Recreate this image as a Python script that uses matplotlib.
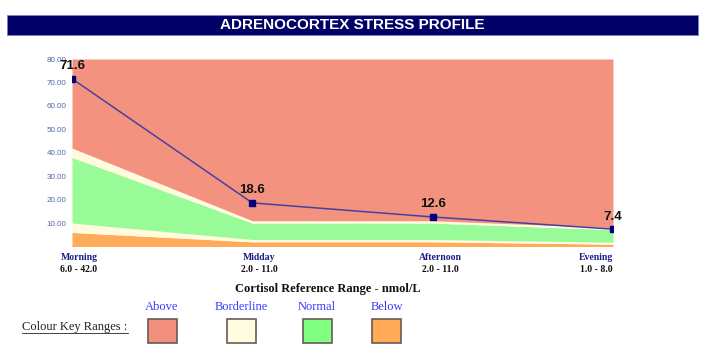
import numpy as np
import matplotlib.pyplot as plt
from matplotlib.patches import Rectangle

# data
periods = ['Morning', 'Midday', 'Afternoon', 'Evening']
ranges = ['6.0 - 42.0', '2.0 - 11.0', '2.0 - 11.0', '1.0 - 8.0']
ref_low = [6.0, 2.0, 2.0, 1.0]
norm_low = [10.0, 3.0, 3.0, 1.8]
norm_high = [38.0, 10.0, 10.0, 7.2]
ref_high = [42.0, 11.0, 11.0, 8.0]
cortisol = [71.6, 18.6, 12.6, 7.4]
y_max = 80

key_names = ['Above', 'Borderline', 'Normal', 'Below']
key_colors = ['#f28f7e', '#fffde0', '#80ff80', '#ffab57']

c_above = '#f3937f'
c_border = '#fffbdc'
c_normal = '#98fb98'
c_below = '#ffab5c'

fig = plt.figure(figsize=(7.03, 3.47), dpi=100)
W, H = 703, 347

# title bar
fig.patches.append(Rectangle((7 / W, 1 - 35 / H), 691 / W, 20 / H, transform=fig.transFigure,
                             facecolor='#000066', edgecolor='#8080b0', lw=0.6))
fig.text(352 / W, 1 - 25 / H, 'ADRENOCORTEX STRESS PROFILE', color='white', fontsize=11,
         fontweight='bold', family='Liberation Sans', ha='center', va='center')

ax = fig.add_axes([72 / W, 1 - 246.5 / H, 541 / W, 187.5 / H])
x = np.arange(len(periods))

ax.fill_between(x, 0, ref_low, color=c_below, lw=0)
ax.fill_between(x, ref_low, norm_low, color=c_border, lw=0)
ax.fill_between(x, norm_low, norm_high, color=c_normal, lw=0)
ax.fill_between(x, norm_high, ref_high, color=c_border, lw=0)
ax.fill_between(x, ref_high, y_max, color=c_above, lw=0)

ax.plot(x, cortisol, color='#4a3fa0', lw=1.1, marker='s', ms=5,
        markerfacecolor='#000080', markeredgecolor='#000080', zorder=5)
for xi, v in zip(x, cortisol):
    ax.annotate(f'{v:.1f}', (xi, v), xytext=(0, 9), textcoords='offset points',
                ha='center', va='center', fontsize=9.5, fontweight='bold',
                family='Liberation Sans', color='#111111', zorder=6, annotation_clip=False)

ax.set_xlim(0, len(periods) - 1)
ax.set_ylim(0, y_max)
ax.set_yticks(np.arange(10, 81, 10))
ax.set_yticklabels([f'{t:.2f}' for t in np.arange(10, 81, 10)], fontsize=5.8,
                   color='#5464a4', family='Liberation Sans')
ax.tick_params(axis='y', length=0, pad=4)
ax.set_xticks([])
for s in ax.spines.values():
    s.set_visible(False)

# period labels under the chart
label_x = [79, 259, 440, 596]
for lx, p, r in zip(label_x, periods, ranges):
    fig.text(lx / W, 1 - 257 / H, p, ha='center', va='center', fontsize=7,
             fontweight='bold', family='Liberation Serif', color='#1c1c88')
    fig.text(lx / W, 1 - 269 / H, r, ha='center', va='center', fontsize=7,
             fontweight='bold', family='Liberation Serif', color='#111111')

fig.text(328 / W, 1 - 289 / H, 'Cortisol Reference Range - nmol/L', ha='center', va='center',
         fontsize=9, fontweight='bold', family='Liberation Serif', color='#111111')

# colour key
fig.text(22 / W, 1 - 327 / H, 'Colour Key Ranges :', ha='left', va='center', fontsize=9,
         family='Liberation Serif', color='#222222')
fig.lines.append(plt.Line2D([22 / W, 128 / W], [1 - 333 / H, 1 - 333 / H],
                            transform=fig.transFigure, color='#222222', lw=0.6))
key_x = [162, 241, 317, 387]
for kx, name, col in zip(key_x, key_names, key_colors):
    fig.text(kx / W, 1 - 307 / H, name, ha='center', va='center', fontsize=9,
             family='Liberation Serif', color='#3a3aff')
    fig.patches.append(Rectangle(((kx - 14.5) / W, 1 - 343 / H), 29 / W, 24 / H,
                                 transform=fig.transFigure, facecolor=col,
                                 edgecolor='#6a5a55', lw=1.2))

fig.savefig('out.png', dpi=100)
